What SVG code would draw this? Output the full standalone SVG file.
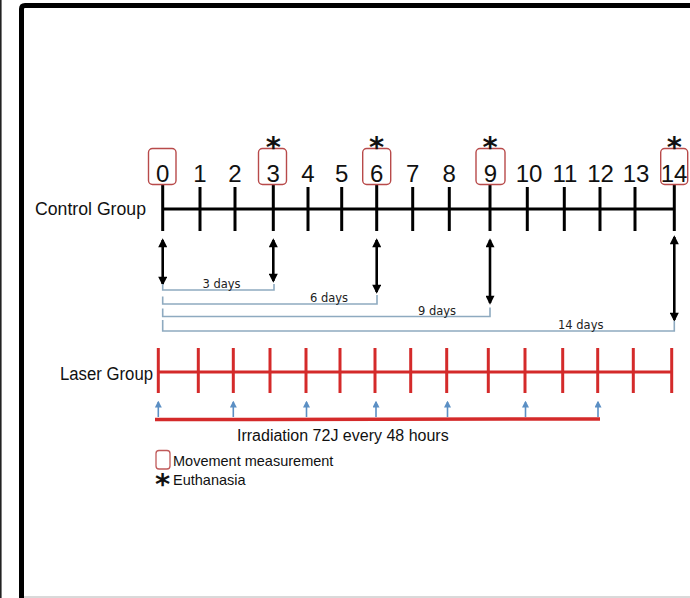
<svg xmlns="http://www.w3.org/2000/svg" width="690" height="598" viewBox="0 0 690 598">
<style>
.num{font-family:"Liberation Sans",Arial,sans-serif;font-size:24px;fill:#111;text-anchor:middle}
.star{font-family:"DejaVu Sans",sans-serif;font-size:29px;font-weight:bold;fill:#111;text-anchor:middle}
.lbl{font-family:"Liberation Sans",Arial,sans-serif;font-size:18px;fill:#111}
.irr{font-family:"Liberation Sans",Arial,sans-serif;font-size:16px;fill:#111}
.days{font-family:"DejaVu Sans",Verdana,sans-serif;font-size:11.5px;fill:#222}
.box{fill:none;stroke:#b84a4a;stroke-width:1.4}
.tick{stroke:#000;stroke-width:3}
.rtick{stroke:#d42a2a;stroke-width:3}
.arr{stroke:#000;stroke-width:2.6;fill:none}
.brk{stroke:#8eaac0;stroke-width:1.6;fill:none}
.barr{stroke:#5b8fc4;stroke-width:1.6;fill:none}
.leg{font-family:"Liberation Sans",Arial,sans-serif;font-size:14.5px;fill:#111}
</style>
<defs>
<marker id="ah" viewBox="0 0 10 10" refX="8" refY="5" markerWidth="10" markerHeight="9" markerUnits="userSpaceOnUse" orient="auto-start-reverse">
<path d="M0,0 L10,5 L0,10 z" fill="#000"/>
</marker>
<marker id="bh" viewBox="0 0 10 10" refX="8" refY="5" markerWidth="7" markerHeight="7" markerUnits="userSpaceOnUse" orient="auto">
<path d="M0,0 L10,5 L0,10 z" fill="#5b8fc4"/>
</marker>
</defs>
<rect x="0" y="0" width="690" height="598" fill="#fff"/>
<g id="frame">
<line x1="0.8" y1="0" x2="0.8" y2="598" stroke="#222" stroke-width="1.6"/>
<path d="M21.5,598 V9 Q21.5,5.5 25,5.5 H690" fill="none" stroke="#000" stroke-width="5"/>
<line x1="24" y1="597" x2="690" y2="597" stroke="#ccc" stroke-width="1.5"/>
</g>
<g id="control-group">
<text class="lbl" x="35" y="215" textLength="111" lengthAdjust="spacingAndGlyphs">Control Group</text>
<line x1="162.7" y1="209" x2="674.3" y2="209" stroke="#000" stroke-width="3"/>
<g class="ticks">
<line class="tick" x1="162.7" y1="184" x2="162.7" y2="231"/>
<line class="tick" x1="200" y1="187" x2="200" y2="231"/>
<line class="tick" x1="235" y1="187" x2="235" y2="231"/>
<line class="tick" x1="273.3" y1="185" x2="273.3" y2="231"/>
<line class="tick" x1="308" y1="187" x2="308" y2="231"/>
<line class="tick" x1="341.7" y1="187" x2="341.7" y2="231"/>
<line class="tick" x1="376.7" y1="185" x2="376.7" y2="231"/>
<line class="tick" x1="412.7" y1="187" x2="412.7" y2="231"/>
<line class="tick" x1="449.3" y1="187" x2="449.3" y2="231"/>
<line class="tick" x1="490" y1="185" x2="490" y2="231"/>
<line class="tick" x1="527.3" y1="187" x2="527.3" y2="231"/>
<line class="tick" x1="564.3" y1="187" x2="564.3" y2="231"/>
<line class="tick" x1="600" y1="187" x2="600" y2="231"/>
<line class="tick" x1="635" y1="187" x2="635" y2="231"/>
<line class="tick" x1="674.3" y1="185" x2="674.3" y2="231"/>
</g>
<g class="days-numbers">
<text class="num" x="162.7" y="182">0</text>
<text class="num" x="200" y="182">1</text>
<text class="num" x="235" y="182">2</text>
<text class="num" x="273.3" y="182">3</text>
<text class="num" x="308" y="182">4</text>
<text class="num" x="341.7" y="182">5</text>
<text class="num" x="376.7" y="182">6</text>
<text class="num" x="412.7" y="182">7</text>
<text class="num" x="449.3" y="182">8</text>
<text class="num" x="490.5" y="182">9</text>
<text class="num" x="529" y="182">10</text>
<text class="num" x="565" y="182">11</text>
<text class="num" x="600.5" y="182">12</text>
<text class="num" x="636" y="182">13</text>
<text class="num" x="674" y="182">14</text>
</g>
<g class="boxes">
<rect class="box" x="148.5" y="148.5" width="27.5" height="36" rx="4"/>
<rect class="box" x="258.5" y="148.5" width="28" height="36" rx="4"/>
<rect class="box" x="362.7" y="148.5" width="28" height="36" rx="4"/>
<rect class="box" x="476" y="148.5" width="29" height="36" rx="4"/>
<rect class="box" x="660.7" y="148.5" width="27" height="36" rx="4"/>
</g>
<g class="stars">
<text class="star" x="273.3" y="157">*</text>
<text class="star" x="376.7" y="157">*</text>
<text class="star" x="490" y="157">*</text>
<text class="star" x="674.3" y="157">*</text>
</g>
</g>
<g id="connectors">
<line class="arr" x1="162.7" y1="240" x2="162.7" y2="284" marker-start="url(#ah)" marker-end="url(#ah)"/>
<line class="arr" x1="273.3" y1="240" x2="273.3" y2="281" marker-start="url(#ah)" marker-end="url(#ah)"/>
<line class="arr" x1="376.7" y1="240" x2="376.7" y2="292" marker-start="url(#ah)" marker-end="url(#ah)"/>
<line class="arr" x1="490" y1="240" x2="490" y2="303" marker-start="url(#ah)" marker-end="url(#ah)"/>
<line class="arr" x1="674.3" y1="237" x2="674.3" y2="320" marker-start="url(#ah)" marker-end="url(#ah)"/>
<g class="blue-arrows">
<line class="barr" x1="158.3" y1="417" x2="158.3" y2="402" marker-end="url(#bh)"/>
<line class="barr" x1="233.3" y1="417" x2="233.3" y2="402" marker-end="url(#bh)"/>
<line class="barr" x1="306.5" y1="417" x2="306.5" y2="402" marker-end="url(#bh)"/>
<line class="barr" x1="376" y1="417" x2="376" y2="402" marker-end="url(#bh)"/>
<line class="barr" x1="447.5" y1="417" x2="447.5" y2="402" marker-end="url(#bh)"/>
<line class="barr" x1="525.5" y1="417" x2="525.5" y2="402" marker-end="url(#bh)"/>
<line class="barr" x1="598" y1="417" x2="598" y2="402" marker-end="url(#bh)"/>
</g>
</g>
<g id="brackets">
<path class="brk" d="M162.7,284 V290 H274 V284"/>
<path class="brk" d="M162.7,296.5 V304 H377 V295"/>
<path class="brk" d="M162.7,308.5 V316.5 H490 V307.5"/>
<path class="brk" d="M162.7,320 V331 H674.3 V321"/>
<text class="days" x="202.5" y="288">3 days</text>
<text class="days" x="310" y="302">6 days</text>
<text class="days" x="418" y="315">9 days</text>
<text class="days" x="558" y="329">14 days</text>
</g>
<g id="laser-group">
<text class="lbl" x="60" y="380" textLength="93" lengthAdjust="spacingAndGlyphs">Laser Group</text>
<line x1="158.3" y1="372" x2="671.7" y2="372" stroke="#d42a2a" stroke-width="3"/>
<line class="rtick" x1="158.3" y1="348" x2="158.3" y2="393"/>
<line class="rtick" x1="198.3" y1="348" x2="198.3" y2="393"/>
<line class="rtick" x1="233.3" y1="348" x2="233.3" y2="393"/>
<line class="rtick" x1="270" y1="348" x2="270" y2="393"/>
<line class="rtick" x1="306" y1="348" x2="306" y2="393"/>
<line class="rtick" x1="340" y1="348" x2="340" y2="393"/>
<line class="rtick" x1="375" y1="348" x2="375" y2="393"/>
<line class="rtick" x1="410.7" y1="348" x2="410.7" y2="393"/>
<line class="rtick" x1="446.7" y1="348" x2="446.7" y2="393"/>
<line class="rtick" x1="488.3" y1="348" x2="488.3" y2="393"/>
<line class="rtick" x1="525" y1="348" x2="525" y2="393"/>
<line class="rtick" x1="562.7" y1="348" x2="562.7" y2="393"/>
<line class="rtick" x1="597.7" y1="348" x2="597.7" y2="393"/>
<line class="rtick" x1="633.3" y1="348" x2="633.3" y2="393"/>
<line class="rtick" x1="671.7" y1="348" x2="671.7" y2="393"/>
</g>
<g id="irradiation">
<line x1="155" y1="419.5" x2="600" y2="419" stroke="#d42a2a" stroke-width="3.5"/>
<text class="irr" x="237" y="441">Irradiation 72J every 48 hours</text>
</g>
<g id="legend">
<rect x="156" y="450.5" width="14" height="18.5" rx="3" fill="none" stroke="#c05a5a" stroke-width="1.3"/>
<text class="leg" x="173" y="466">Movement measurement</text>
<text class="star" x="162.5" y="494">*</text>
<text class="leg" x="173" y="485">Euthanasia</text>
</g>
</svg>
